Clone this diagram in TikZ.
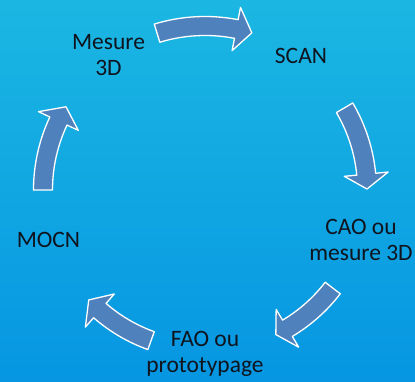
\documentclass[tikz,border=0pt]{standalone}
\usepackage{fontspec}
\setmainfont{Carlito}
\definecolor{bgtop}{RGB}{27,183,226}
\definecolor{bgbot}{RGB}{6,150,226}
\definecolor{arrowfill}{RGB}{79,129,189}
\definecolor{txt}{RGB}{15,20,30}
\tikzset{
  cyclearrow/.style={fill=arrowfill, draw=white, line width=1.3pt, line join=round},
  steplabel/.style={font=\fontsize{23.5}{26}\selectfont, text=txt, align=center, inner sep=0pt, anchor=base}
}
\newcommand\cycarrow[4]{%
  \pgfmathsetmacro\cyRo{#4+9.5}%
  \pgfmathsetmacro\cyRi{#4-9.5}%
  \pgfmathsetmacro\cyHo{#4+22}%
  \pgfmathsetmacro\cyHi{#4-22}%
  \draw[cyclearrow] (#1:\cyRo) arc[start angle=#1,end angle=#2,radius=\cyRo]
    -- (#2:\cyHo) -- (#3:#4) -- (#2:\cyHi) -- (#2:\cyRi)
    arc[start angle=#2,end angle=#1,radius=\cyRi] -- cycle;}
\begin{document}
\begin{tikzpicture}[x=1pt,y=1pt]
\shade[top color=bgtop,bottom color=bgbot] (0,0) rectangle (415,382);
\useasboundingbox (0,0) rectangle (415,382);
\begin{scope}[shift={(205,192)}]
  \cycarrow{107}{79}{73.4}{164}
  \cycarrow{30.5}{5.6}{0.35}{162}
  \cycarrow{-37.5}{-59.2}{-63.9}{161}
  \cycarrow{-109.7}{-131.1}{-136.6}{160}
  \cycarrow{180}{154.8}{149.1}{162}
\end{scope}
\node[steplabel] (mesure) at (108.5,306) {Mesure\\3D};
\node[steplabel] (scan) at (301,318) {SCAN};
\node[steplabel] (cao) at (361,121) {CAO ou\\mesure 3D};
\node[steplabel] (fao) at (205,9) {FAO ou\\prototypage};
\node[steplabel] (mocn) at (48.5,134) {MOCN};
\end{tikzpicture}
\end{document}
